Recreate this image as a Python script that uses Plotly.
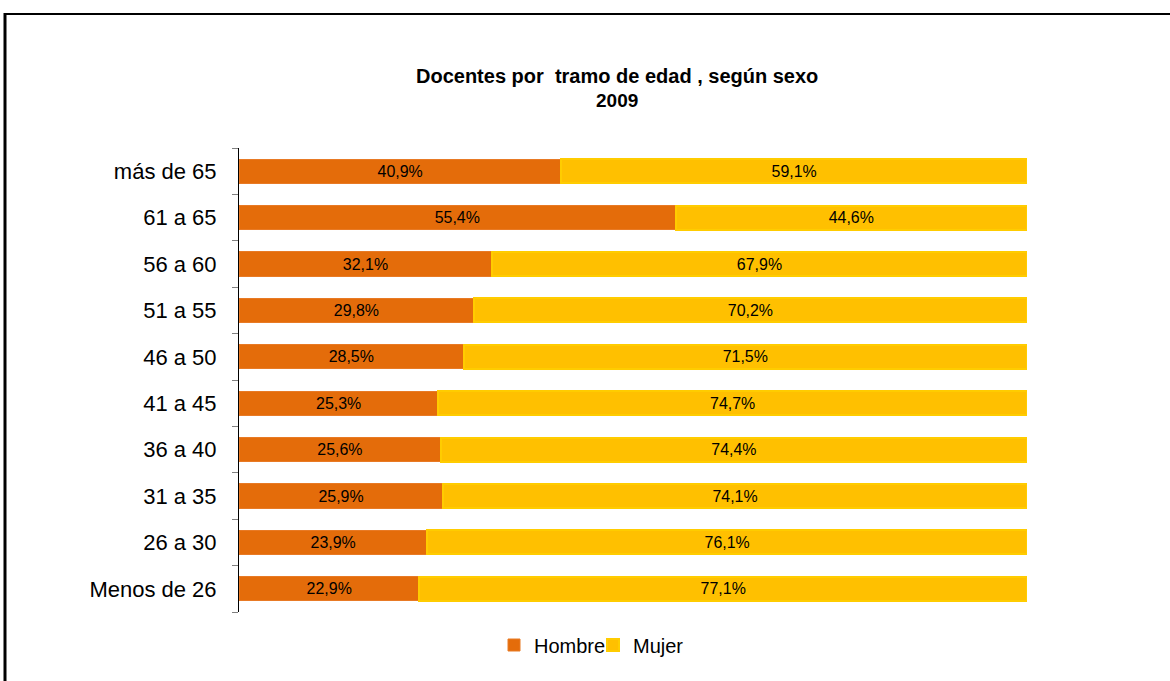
import plotly.graph_objects as go

categories = ["Menos de 26", "26 a 30", "31 a 35", "36 a 40", "41 a 45",
              "46 a 50", "51 a 55", "56 a 60", "61 a 65", "más de 65"]
hombre = [22.9, 23.9, 25.9, 25.6, 25.3, 28.5, 29.8, 32.1, 55.4, 40.9]
mujer = [77.1, 76.1, 74.1, 74.4, 74.7, 71.5, 70.2, 67.9, 44.6, 59.1]
title_line1 = "Docentes por  tramo de edad , según sexo"
title_line2 = "2009"

FONT = "Liberation Sans, Arial, sans-serif"

def fmt(v):
    return f"{v:.1f}".replace(".", ",") + "%"

W, H = 1170, 681
L, R, T, B = 239, 143, 148, 69
PW, PH = W - L - R, H - T - B

def px(x):
    return (x - L) / PW

def py(y):
    return 1 - (y - T) / PH

fig = go.Figure()
fig.add_trace(go.Bar(
    y=categories, x=hombre, orientation="h", name="Hombre", legend="legend",
    marker=dict(color="#E46C0A", line=dict(color="#E87A25", width=1)),
    text=[fmt(v) for v in hombre], textposition="inside", insidetextanchor="middle",
    textfont=dict(color="black", size=18.5, family=FONT),
))
fig.add_trace(go.Bar(
    y=categories, x=mujer, orientation="h", name="Mujer", legend="legend2",
    marker=dict(color="#FFC000", line=dict(color="#FFCC00", width=2)),
    text=[fmt(v) for v in mujer], textposition="inside", insidetextanchor="middle",
    textfont=dict(color="black", size=18.5, family=FONT),
))

legend_common = dict(orientation="h", xanchor="left", yanchor="middle",
                     y=py(645), font=dict(size=20, family=FONT),
                     itemwidth=30, bgcolor="rgba(0,0,0,0)")

fig.update_layout(
    width=W, height=H,
    barmode="stack", bargap=0.48,
    paper_bgcolor="white", plot_bgcolor="white",
    margin=dict(l=L, r=R, t=T, b=B),
    font=dict(family=FONT, color="black", size=18),
    showlegend=True,
    legend=dict(x=px(494), **legend_common),
    legend2=dict(x=px(593), **legend_common),
    uniformtext=dict(mode="show", minsize=10),
)
fig.add_annotation(text="<b>" + title_line1 + "</b>", xref="paper", yref="paper",
                   x=px(617), y=py(76), xanchor="center", yanchor="middle",
                   showarrow=False, font=dict(size=20, family=FONT, color="black"))
fig.add_annotation(text="<b>" + title_line2 + "</b>", xref="paper", yref="paper",
                   x=px(617), y=py(100), xanchor="center", yanchor="middle",
                   showarrow=False, font=dict(size=19, family=FONT, color="black"))

fig.update_xaxes(range=[0, 100], visible=False, fixedrange=True)
fig.update_yaxes(showline=True, linecolor="black", linewidth=1,
                 ticks="outside", tickson="boundaries", ticklen=6, tickcolor="#808080",
                 tickfont=dict(size=22, family=FONT),
                 ticklabelstandoff=17, showgrid=False, fixedrange=True)

# outer frame
fig.add_shape(type="line", xref="paper", yref="paper",
              x0=px(4), x1=px(1175), y0=py(14), y1=py(14),
              line=dict(color="black", width=2))
fig.add_shape(type="line", xref="paper", yref="paper",
              x0=px(5), x1=px(5), y0=py(13), y1=py(690),
              line=dict(color="black", width=3))

fig.write_html("out.html", config={"displayModeBar": False},
               post_script="document.body.style.margin='0';document.body.style.overflow='hidden';")
